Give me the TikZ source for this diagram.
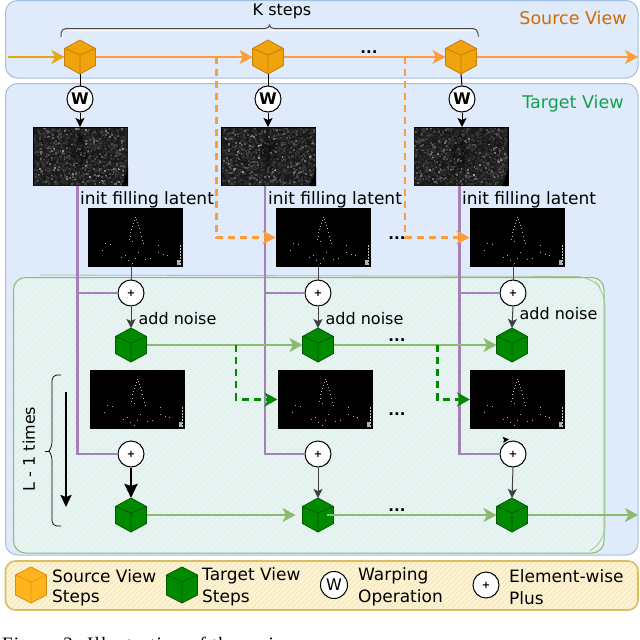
\documentclass[tikz,border=0pt]{standalone}
\usepackage{fontspec}
\usetikzlibrary{arrows.meta}
\setmainfont{DejaVu Sans}
\newfontfamily\capfont[LetterSpace=6]{Liberation Serif}
\definecolor{panelblue}{HTML}{DFEAFB}
\definecolor{panelline}{HTML}{A5BFE2}
\definecolor{greenbase}{HTML}{E1F0F4}
\definecolor{greenhatch}{HTML}{E8F6EE}
\definecolor{greenline}{HTML}{8DBB72}
\definecolor{yellowbase}{HTML}{FDF8E4}
\definecolor{yellowhatch}{HTML}{F9EBBE}
\definecolor{yellowline}{HTML}{DCBE62}
\definecolor{orangeline}{HTML}{FF9C38}
\definecolor{orangefirst}{HTML}{E8A616}
\definecolor{cubeorange}{HTML}{F0A30A}
\definecolor{cubeorangeedge}{HTML}{C57F10}
\definecolor{legendorange}{HTML}{FFB41E}
\definecolor{cubegreen}{HTML}{008A00}
\definecolor{cubegreenedge}{HTML}{005700}
\definecolor{purpleline}{HTML}{A680B8}
\definecolor{sourcetext}{HTML}{D26A00}
\definecolor{targettext}{HTML}{12A050}
\definecolor{arrowgreen}{HTML}{8CBB70}
\tikzset{
  panel/.style={draw=panelline,fill=panelblue,line width=1pt,rounded corners=12pt},
  cubebox/.style={minimum width=31pt,minimum height=34pt,inner sep=0pt,outer sep=0pt},
  wcirc/.style={circle,draw=black,fill=white,line width=1pt,minimum size=26pt,inner sep=0pt,font=\fontsize{16}{16}\selectfont\bfseries},
  pluscirc/.style={circle,draw=black,fill=white,line width=1pt,minimum size=26pt,inner sep=0pt,font=\fontsize{10}{10}\selectfont\bfseries},
  img/.style={fill=black,minimum width=95pt,minimum height=59pt,inner sep=0pt,outer sep=0pt},
  lab/.style={font=\fontsize{16}{16}\selectfont,inner sep=0pt,text=black},
  initlab/.style={font=\fontsize{17}{17}\selectfont,inner sep=0pt,text=black},
  viewlab/.style={font=\fontsize{17.5}{17.5}\selectfont,inner sep=0pt},
  leg/.style={font=\fontsize{17}{17}\selectfont,inner sep=0pt,text=black,anchor=west},
  dots/.style={font=\fontsize{15}{15}\selectfont\bfseries,inner sep=0pt},
  thin arrow/.style={line width=1pt,-{Stealth[length=9pt,width=9pt,inset=2pt]}},
  plain link/.style={line width=1pt},
  purple link/.style={draw=purpleline,line width=2.5pt},
  orange link/.style={draw=orangeline,line width=2.5pt,-{Stealth[length=13pt,width=14pt,inset=3.5pt]}},
  orange dash/.style={draw=orangeline,line width=2.5pt,dash pattern=on 7pt off 5pt,-{Stealth[length=13pt,width=14pt,inset=3.5pt]}},
  green link/.style={draw=arrowgreen,line width=2.5pt,-{Stealth[length=13pt,width=14pt,inset=3.5pt]}},
  green dash/.style={draw=cubegreen,line width=2.5pt,dash pattern=on 7pt off 5pt,-{Stealth[length=13pt,width=14pt,inset=3.5pt]}},
}
\newcommand{\cubedraw}[3]{\begin{scope}[shift={(#1.center)}]
  \draw[draw=#3,fill=#2,line width=.8pt,line join=round] (0,-17)--(15.5,-8.5)--(15.5,8.5)--(0,17)--(-15.5,8.5)--(-15.5,-8.5)--cycle;
  \draw[draw=#3,line width=.8pt] (-15.5,-8.5)--(0,-2)--(15.5,-8.5) (0,-2)--(0,17);
\end{scope}}
\newcommand{\noisedots}[1]{\begin{scope}[shift={(#1.north west)}]
  \fill[white!10!black] (0.5,0.5) rectangle (94.5,58.5);
  \foreach \i in {1,...,1300}{
    \pgfmathsetmacro\px{0.5+rnd*92}
    \pgfmathsetmacro\py{0.5+rnd*56}
    \pgfmathsetmacro\lv{int(14+rnd*rnd*rnd*60)}
    \fill[white!\lv!black] (\px,\py) rectangle ++(2,2);
  }
  \fill[black,opacity=.3] (47,2) -- (56,28) -- (46,42) -- (38,28) -- cycle;
  \fill[black] (95,40) -- (95,59) -- (89,59) -- cycle;
\end{scope}}
\newcommand{\latentdots}[1]{\begin{scope}[shift={(#1.north west)}]
  \foreach \a/\b in {47/9,46/12,45/15,44/18,43/21,42/24,42/28,41/31,44/33,48/11,49/14,50/17,51/20,52/24,53/28,54/32,55/35,
    17/35,22/36,14/42,37/47,50/44,70/37,70/44,75/46,79/47,44/55,57/51,40/52,47/50,33/49,62/50}{
    \fill[white!70!black] (\a,\b) rectangle ++(1.2,1.2);
  }
  \foreach \b in {37,40,...,55}{\fill[white!75!black] (92,\b) rectangle ++(1.2,1.5);}
  \fill[white!70!black] (89,52) rectangle ++(3,5);
\end{scope}}
\begin{document}
\begin{tikzpicture}[x=1pt,y=-1pt]
\useasboundingbox (0,0) rectangle (640,640);
\clip (0,0) rectangle (640,640);
\fill[white] (0,0) rectangle (640,640);

% panels
\path[panel] (5.5,0.5) rectangle (638,78);
\path[panel] (5.5,83.5) rectangle (638,555);
\begin{scope}
  \clip[rounded corners=12pt] (13.5,277.5) rectangle (604,553);
  \fill[greenbase] (13,277) rectangle (605,554);
  \foreach \k in {-280,-274,...,610}{\draw[greenhatch,line width=2pt] (\k,554) -- ++(300,-300);}
\end{scope}
\draw[greenline,line width=1pt,rounded corners=12pt] (13.5,277.5) rectangle (604,553);
\draw[greenline!80,line width=.8pt,rounded corners=14pt] (40,275) -- (590,276.5) -- (605,292) -- (605,540) -- (590,551);
\begin{scope}
  \clip[rounded corners=10pt] (5.5,561) rectangle (638,610);
  \fill[yellowbase] (5,561) rectangle (638,610);
  \foreach \k in {-50,-45,...,640}{\draw[yellowhatch,line width=1.8pt] (\k,610) -- ++(50,-50);}
\end{scope}
\draw[yellowline,line width=1.6pt,rounded corners=10pt] (5.5,561) rectangle (638,610);

% titles
\node[lab] (tk) at (282,11) {K steps};
\node[viewlab,text=sourcetext] (tsrc) at (573,18) {Source View};
\node[viewlab,text=targettext] (ttgt) at (573,104) {Target View};

% cube anchors
\node[cubebox] (s1) at (80,57) {};
\node[cubebox] (s2) at (268,57) {};
\node[cubebox] (s3) at (461,57) {};
\node[cubebox] (g1) at (131,345) {};
\node[cubebox] (g2) at (318,345) {};
\node[cubebox] (g3) at (512,345) {};
\node[cubebox] (h1) at (131,515) {};
\node[cubebox] (h2) at (318,515) {};
\node[cubebox] (h3) at (512,515) {};

% images
\node[img] (n1) at (80.5,156.5) {};
\node[img] (n2) at (268.5,156.5) {};
\node[img] (n3) at (461,156.5) {};
\node[img] (l1) at (135,237.5) {};
\node[img] (l2) at (323,237.5) {};
\node[img] (l3) at (517,237.5) {};
\node[img] (m1) at (137,399.5) {};
\node[img] (m2) at (325,399.5) {};
\node[img] (m3) at (517.5,399.5) {};
\pgfmathsetseed{4242}
\noisedots{n1}\noisedots{n2}\noisedots{n3}
\latentdots{l1}\latentdots{l2}\latentdots{l3}
\latentdots{m1}\latentdots{m2}\latentdots{m3}

% circles
\node[wcirc] (w1) at (80,99) {W};
\node[wcirc] (w2) at (268,99) {W};
\node[wcirc] (w3) at (462,99) {W};
\node[pluscirc] (p1) at (131,293) {+};
\node[pluscirc] (p2) at (318,293) {+};
\node[pluscirc] (p3) at (513,293) {+};
\node[pluscirc] (q1) at (131,454) {+};
\node[pluscirc] (q2) at (318,454) {+};
\node[pluscirc] (q3) at (513,454) {+};

% free ends
\coordinate (start) at (8,57);
\coordinate (sout) at (638,57);
\coordinate (gout) at (638,515);
\coordinate (d1a) at (216.5,57);
\coordinate (d2a) at (405,57);
\coordinate (e1a) at (236,345);
\coordinate (e2a) at (437.5,345);
\coordinate (v1) at (77.5,186);
\coordinate (v2) at (265,186);
\coordinate (v3) at (459.5,186);

% purple feeds
\draw[purple link] (n1.south -| v1) -- (v1 |- q1) -- (q1.west);
\draw[purple link] (n2.south -| v2) -- (v2 |- q2) -- (q2.west);
\draw[purple link] (n3.south -| v3) -- (v3 |- q3) -- (q3.west);
\draw[purple link] (v1 |- p1) -- (p1.west);
\draw[purple link] (v2 |- p2) -- (p2.west);
\draw[purple link] (v3 |- p3) -- (p3.west);

% source row
\draw[draw=orangefirst,line width=2.5pt,-{Stealth[length=13pt,width=14pt,inset=3.5pt]}] (start) -- (s1.west);
\draw[orange link] (s1.east) -- (s2.west);
\draw[orange link] (s2.east) -- (s3.west);
\draw[orange link] (s3.east) -- (sout);
\draw[orange dash] (d1a) -- (d1a |- l2) -- (l2.west);
\draw[orange dash] (d2a) -- (d2a |- l3) -- (l3.west);

% top connectors
\draw[plain link] (s1.south) -- (w1.north);
\draw[plain link] (s2.south) -- (w2.north);
\draw[plain link] (s3.south) -- (w3.north);
\draw[thin arrow] (w1.south) -- (w1.south |- n1.north);
\draw[thin arrow] (w2.south) -- (w2.south |- n2.north);
\draw[thin arrow] (w3.south) -- (w3.south |- n3.north);
\draw[plain link,black!70] (p1.north |- l1.south) -- (p1.north);
\draw[plain link,black!70] (p2.north |- l2.south) -- (p2.north);
\draw[plain link,black!70] (p3.north |- l3.south) -- (p3.north);
\draw[thin arrow,black!75] (p1.south) -- (g1.north);
\draw[thin arrow,black!75] (p2.south) -- (g2.north);
\draw[thin arrow,black!75] (p3.south) -- (g3.north);

% green rows
\draw[green link] (g1.east) -- (g2.west);
\draw[green link] (g2.east) -- (g3.west);
\draw[green dash] (e1a) -- (e1a |- m2) -- (m2.west);
\draw[green dash] (e2a) -- (e2a |- m3) -- (m3.west);
\draw[line width=2.5pt,-{Stealth[length=14pt,width=13pt,inset=2pt]}] (q1.south) -- (h1.north);
\draw[thin arrow,black!75] (q2.south) -- (h2.north);
\draw[thin arrow,black!75] (q3.south) -- (h3.north);
\draw[-{Stealth[length=6pt,width=6pt,inset=1pt]},line width=.8pt] (q3.north) ++(-6,-1) -- ++(2,-0.2);

% cubes on top
\cubedraw{s1}{cubeorange}{cubeorangeedge}
\cubedraw{s2}{cubeorange}{cubeorangeedge}
\cubedraw{s3}{cubeorange}{cubeorangeedge}
\cubedraw{g1}{cubegreen}{cubegreenedge}
\cubedraw{g2}{cubegreen}{cubegreenedge}
\cubedraw{g3}{cubegreen}{cubegreenedge}
\cubedraw{h1}{cubegreen}{cubegreenedge}
\cubedraw{h2}{cubegreen}{cubegreenedge}
\cubedraw{h3}{cubegreen}{cubegreenedge}
\draw[green link,shorten >=7pt] (h1.east) -- (h2.west);
\draw[green link] ([xshift=-7pt]h2.east) -- (h3.west);
\draw[green link] (h3.east) -- (gout);

% braces
\coordinate (ba) at (61,37);
\coordinate (bb) at (478,37);
\coordinate (bm) at (269.5,25);
\draw[white,line width=1pt] (62,38) -- (62,30) -- (477,30) -- (477,38);
\draw[black!70,line width=1pt,rounded corners=5pt] (ba) -- (61,28.5) -- (265,28.5);
\draw[black!70,line width=1pt,rounded corners=5pt] (274,28.5) -- (478,28.5) -- (bb);
\draw[black!70,line width=1pt] (265,28.5) .. controls (268,28.5) and (269,27) .. (bm) .. controls (270,27) and (271,28.5) .. (274,28.5);
\coordinate (la) at (61,375);
\coordinate (lb) at (61,526);
\coordinate (lm) at (45,451);
\draw[black,line width=.7pt,rounded corners=5pt] (la) -- (52,375) -- (52,447) -- (49,451);
\draw[black,line width=.7pt,rounded corners=5pt] (lb) -- (52,526) -- (52,455) -- (49,451);
\draw[black,line width=.7pt] (49,451) -- (lm);
\node[lab,rotate=90] (tl) at (29,449) {L - 1 times};
\coordinate (da) at (66,392);
\coordinate (db) at (66,507);
\draw[line width=2.2pt,-{Stealth[length=12pt,width=11pt,inset=2pt]}] (da) -- (db);

% labels
\foreach \nm/\xx in {a/147,b/335,c/529}{\node[initlab] (init\nm) at (\xx,200) {init filling latent};}
\node[lab] (an1) at (177.5,319) {add noise};
\node[lab] (an2) at (364.5,319) {add noise};
\node[lab] (an3) at (558.5,314) {add noise};
\node[dots] (dt1) at (369,52) {...};
\node[dots] (dt2) at (397,238) {...};
\node[dots] (dt3) at (397,340) {...};
\node[dots] (dt4) at (397,414) {...};
\node[dots] (dt5) at (397,510) {...};

% legend
\node[cubebox] (lc1) at (31,585) {};
\node[cubebox] (lc2) at (182,585) {};
\begin{scope}[shift={(lc1.center)}]
  \draw[draw=cubeorangeedge!70!legendorange,fill=legendorange,line width=.8pt,line join=round] (0,-18)--(15.5,-10)--(15.5,10)--(0,18)--(-15.5,10)--(-15.5,-10)--cycle;
  \draw[draw=cubeorangeedge!60!legendorange,line width=.6pt] (-15.5,-10)--(0,-3)--(15.5,-10) (0,-3)--(0,18);
\end{scope}
\begin{scope}[shift={(lc2.center)}]
  \draw[draw=cubegreenedge,fill=cubegreen,line width=.8pt,line join=round] (0,-18)--(15.5,-10)--(15.5,10)--(0,18)--(-15.5,10)--(-15.5,-10)--cycle;
  \draw[draw=cubegreenedge,line width=.6pt] (-15.5,-10)--(0,-3)--(15.5,-10) (0,-3)--(0,18);
\end{scope}
\node[leg] (t1a) at (52,576) {Source View};
\node[leg] (t1b) at (52,598) {Steps};
\node[leg] (t2a) at (202,576) {Target View};
\node[leg] (t2b) at (202,598) {Steps};
\node[wcirc,minimum size=27pt,font=\fontsize{16}{16}\selectfont] (lw) at (334,585) {W};
\node[leg] (t3a) at (358,576) {Warping};
\node[leg] (t3b) at (358,598) {Operation};
\node[pluscirc] (lp) at (486,585) {+};
\node[leg] (t4a) at (509,576) {Element-wise};
\node[leg] (t4b) at (509,598) {Plus};

% caption
\node[anchor=base west,inner sep=0pt,font=\capfont\fontsize{19}{19}\selectfont] (cap) at (2,650) {Figure 2: Illustration of the main};
\end{tikzpicture}
\end{document}
